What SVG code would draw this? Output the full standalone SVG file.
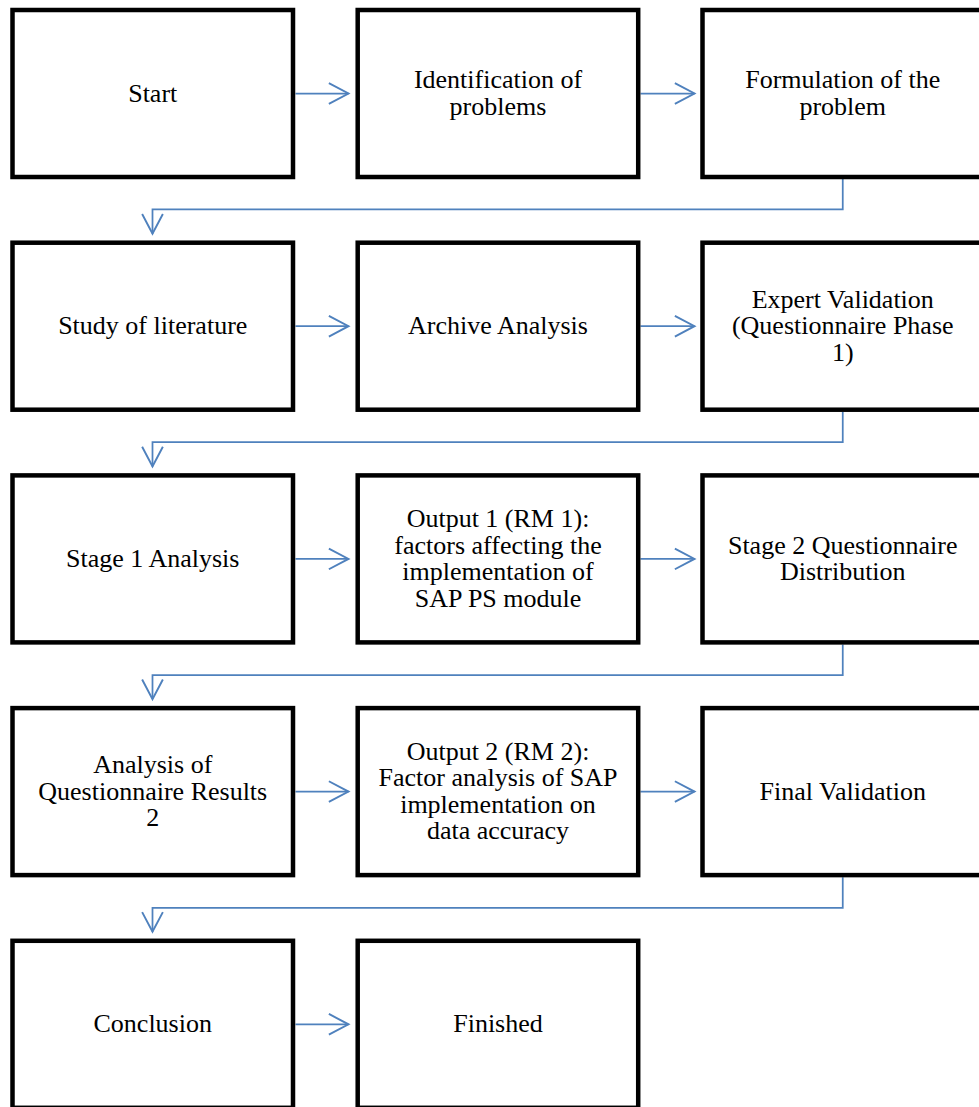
<svg xmlns="http://www.w3.org/2000/svg" width="979" height="1107" viewBox="0 0 979 1107">
<style>
.box{fill:#ffffff;stroke:#000000;stroke-width:4.5}
text{font-family:'Liberation Serif','DejaVu Serif',serif;font-size:26px;fill:#000000;text-anchor:middle}
.c{fill:none;stroke:#4f81bd;stroke-width:1.75}
</style>
<defs>
<marker id="ah" markerUnits="userSpaceOnUse" markerWidth="24" markerHeight="24" viewBox="-20 -11 22 22" refX="0" refY="0" orient="auto" overflow="visible">
<path d="M-18,-9.5 L0,0 L-18,9.5" fill="none" stroke="#4f81bd" stroke-width="1.75"/>
</marker>
</defs>
<rect width="979" height="1107" fill="#ffffff"/>
<g id="connectors">
<line class="c" x1="295.5" y1="93.5" x2="348.5" y2="93.5" marker-end="url(#ah)"/>
<line class="c" x1="640.5" y1="93.5" x2="694.5" y2="93.5" marker-end="url(#ah)"/>
<polyline class="c" points="842.75,179 842.75,209.3 152.5,209.3 152.5,233.7" marker-end="url(#ah)"/>
<line class="c" x1="295.5" y1="326.2" x2="348.5" y2="326.2" marker-end="url(#ah)"/>
<line class="c" x1="640.5" y1="326.2" x2="694.5" y2="326.2" marker-end="url(#ah)"/>
<polyline class="c" points="842.75,411.9 842.75,442 152.5,442 152.5,466.4" marker-end="url(#ah)"/>
<line class="c" x1="295.5" y1="558.9" x2="348.5" y2="558.9" marker-end="url(#ah)"/>
<line class="c" x1="640.5" y1="558.9" x2="694.5" y2="558.9" marker-end="url(#ah)"/>
<polyline class="c" points="842.75,644.6 842.75,675 152.5,675 152.5,699.1" marker-end="url(#ah)"/>
<line class="c" x1="295.5" y1="791.6" x2="348.5" y2="791.6" marker-end="url(#ah)"/>
<line class="c" x1="640.5" y1="791.6" x2="694.5" y2="791.6" marker-end="url(#ah)"/>
<polyline class="c" points="842.75,877.3 842.75,907.8 152.5,907.8 152.5,931.8" marker-end="url(#ah)"/>
<line class="c" x1="295.5" y1="1024.3" x2="348.5" y2="1024.3" marker-end="url(#ah)"/>
</g>
<g id="start"><rect class="box" x="12.5" y="10" width="280.5" height="167"/>
<text x="152.75" y="101.5">Start</text></g>
<g id="identification"><rect class="box" x="357.7" y="10" width="280.5" height="167"/>
<text x="498" y="88.2">Identification of<tspan x="498" dy="26.5">problems</tspan></text></g>
<g id="formulation"><rect class="box" x="702.5" y="10" width="280.5" height="167"/>
<text x="842.75" y="88.2">Formulation of the<tspan x="842.75" dy="26.5">problem</tspan></text></g>
<g id="literature"><rect class="box" x="12.5" y="242.7" width="280.5" height="167"/>
<text x="152.75" y="334.2">Study of literature</text></g>
<g id="archive"><rect class="box" x="357.7" y="242.7" width="280.5" height="167"/>
<text x="498" y="334.2">Archive Analysis</text></g>
<g id="expert"><rect class="box" x="702.5" y="242.7" width="280.5" height="167"/>
<text x="842.75" y="307.7">Expert Validation<tspan x="842.75" dy="26.5">(Questionnaire Phase</tspan><tspan x="842.75" dy="26.5">1)</tspan></text></g>
<g id="stage1"><rect class="box" x="12.5" y="475.4" width="280.5" height="167"/>
<text x="152.75" y="566.9">Stage 1 Analysis</text></g>
<g id="output1"><rect class="box" x="357.7" y="475.4" width="280.5" height="167"/>
<text x="498" y="527.15">Output 1 (RM 1):<tspan x="498" dy="26.5">factors affecting the</tspan><tspan x="498" dy="26.5">implementation of</tspan><tspan x="498" dy="26.5">SAP PS module</tspan></text></g>
<g id="stage2"><rect class="box" x="702.5" y="475.4" width="280.5" height="167"/>
<text x="842.75" y="553.6">Stage 2 Questionnaire<tspan x="842.75" dy="26.5">Distribution</tspan></text></g>
<g id="analysis2"><rect class="box" x="12.5" y="708.1" width="280.5" height="167"/>
<text x="152.75" y="773.1">Analysis of<tspan x="152.75" dy="26.5">Questionnaire Results</tspan><tspan x="152.75" dy="26.5">2</tspan></text></g>
<g id="output2"><rect class="box" x="357.7" y="708.1" width="280.5" height="167"/>
<text x="498" y="759.85">Output 2 (RM 2):<tspan x="498" dy="26.5">Factor analysis of SAP</tspan><tspan x="498" dy="26.5">implementation on</tspan><tspan x="498" dy="26.5">data accuracy</tspan></text></g>
<g id="final"><rect class="box" x="702.5" y="708.1" width="280.5" height="167"/>
<text x="842.75" y="799.6">Final Validation</text></g>
<g id="conclusion"><rect class="box" x="12.5" y="940.8" width="280.5" height="167"/>
<text x="152.75" y="1032.3">Conclusion</text></g>
<g id="finished"><rect class="box" x="357.7" y="940.8" width="280.5" height="167"/>
<text x="498" y="1032.3">Finished</text></g>
</svg>
